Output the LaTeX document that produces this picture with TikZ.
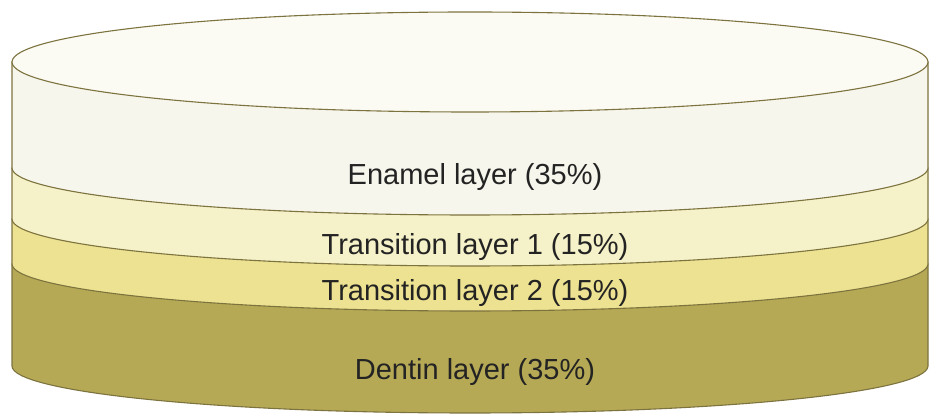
\documentclass[tikz,border=0pt]{standalone}
\usepackage{fontspec}
\setmainfont{Liberation Sans}
\usetikzlibrary{positioning}
\definecolor{edgec}{RGB}{125,115,62}
\definecolor{topc}{RGB}{251,250,243}
\definecolor{enamelc}{RGB}{247,246,236}
\definecolor{transAc}{RGB}{245,241,200}
\definecolor{transBc}{RGB}{237,226,145}
\definecolor{dentinc}{RGB}{182,169,86}
\definecolor{txtc}{RGB}{35,35,35}

\begin{document}
\begin{tikzpicture}[x=1pt, y=1pt,
  slab/.style={draw=edgec, line width=1.1pt},
  lbl/.style={font=\fontsize{29}{32}\selectfont, text=txtc}]
  \useasboundingbox (0,0) rectangle (929,414);
  % layers, bottom first
  \filldraw[slab, fill=dentinc] (12,150) -- (12,48) arc[start angle=180, end angle=360, x radius=458pt, y radius=47pt] -- (928,150) -- cycle;
  \filldraw[slab, fill=transBc] (12,195) -- (12,150) arc[start angle=180, end angle=360, x radius=458pt, y radius=47pt] -- (928,195) -- cycle;
  \filldraw[slab, fill=transAc] (12,246) -- (12,195) arc[start angle=180, end angle=360, x radius=458pt, y radius=47pt] -- (928,246) -- cycle;
  \filldraw[slab, fill=enamelc] (12,352) -- (12,246) arc[start angle=180, end angle=360, x radius=458pt, y radius=47pt] -- (928,352) -- cycle;
  % top face
  \filldraw[slab, fill=topc] (470,352) ellipse[x radius=458pt, y radius=50pt];

  \node[lbl] (enamel) at (475,237) {Enamel layer (35\%)};
  \node[lbl] (transA) at (475,167) {Transition layer 1 (15\%)};
  \node[lbl] (transB) at (475,121) {Transition layer 2 (15\%)};
  \node[lbl] (dentin) at (475,42) {Dentin layer (35\%)};
\end{tikzpicture}
\end{document}
